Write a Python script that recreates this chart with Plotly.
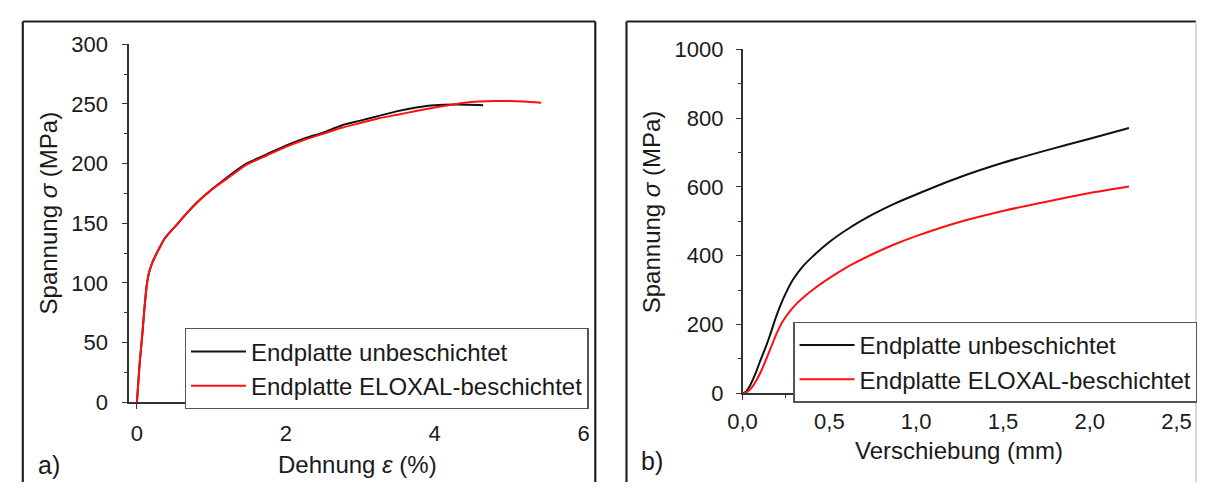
import plotly.graph_objects as go

# ---------------- data ----------------
# panel a) stress-strain
strain_unb = [0, 0.02, 0.04, 0.07, 0.10, 0.13, 0.16, 0.20, 0.25, 0.30, 0.37, 0.45, 0.54, 0.65, 0.8, 1.0, 1.2, 1.47, 1.75, 2.0, 2.25, 2.5, 2.75, 3.0, 3.25, 3.5, 3.75, 4.0, 4.3, 4.65]
stress_unb = [0, 18, 35, 55, 78, 97, 108, 116, 123, 129, 137, 143, 149, 157, 167, 178, 188, 200, 208, 215, 221, 226, 232, 236, 240, 244, 247, 249, 249.5, 249]
strain_elo = [0, 0.02, 0.04, 0.07, 0.10, 0.13, 0.16, 0.20, 0.25, 0.30, 0.37, 0.45, 0.54, 0.65, 0.8, 1.0, 1.2, 1.47, 1.75, 2.0, 2.25, 2.5, 2.75, 3.0, 3.25, 3.5, 3.75, 4.0, 4.2, 4.4, 4.6, 4.8, 5.0, 5.2, 5.43]
stress_elo = [0, 18, 35, 55, 78, 97, 108, 116, 123, 129, 137, 143, 149, 157, 167, 178, 187, 199, 207, 214, 220, 225, 230, 234, 238, 241, 244, 247, 249, 251, 252, 252.5, 252.5, 252, 251]

# panel b) stress-displacement
disp_unb = [0, 0.02, 0.04, 0.06, 0.08, 0.10, 0.13, 0.16, 0.19, 0.22, 0.25, 0.29, 0.34, 0.40, 0.5, 0.62, 0.75, 0.87, 1.0, 1.25, 1.5, 1.75, 2.0, 2.226]
sig_unb = [0, 5, 20, 41, 65, 92, 130, 172, 218, 258, 292, 330, 365, 396, 440, 482, 520, 550, 578, 628, 670, 706, 740, 771]
disp_elo = [0, 0.02, 0.04, 0.06, 0.08, 0.11, 0.14, 0.17, 0.20, 0.23, 0.27, 0.31, 0.36, 0.42, 0.5, 0.62, 0.75, 0.87, 1.0, 1.25, 1.5, 1.75, 2.0, 2.226]
sig_elo = [0, 3, 10, 22, 38, 68, 104, 142, 178, 208, 237, 260, 283, 307, 335, 372, 405, 432, 457, 498, 530, 557, 582, 601]

names = ["Endplatte unbeschichtet", "Endplatte ELOXAL-beschichtet"]
colors = ["#111111", "#ff1010"]

xa_ticks = [0, 2, 4, 6]
xa_minor = [1, 3, 5]
ya_ticks = [0, 50, 100, 150, 200, 250, 300]
ya_minor = [25, 75, 125, 175, 225, 275]
xb_ticks = [0, 0.5, 1.0, 1.5, 2.0, 2.5]
xb_ticktext = ["0,0", "0,5", "1,0", "1,5", "2,0", "2,5"]
xb_minor = [0.25, 0.75, 1.25, 1.75, 2.25]
yb_ticks = [0, 200, 400, 600, 800, 1000]
yb_minor = [100, 300, 500, 700, 900]

W, H = 1213, 495
FONT = "Liberation Sans, Arial, sans-serif"
TXT = "#1a1a1a"

def px(x):
    return x / W

def py(y):
    return 1 - y / H

fig = go.Figure()
fig.add_trace(go.Scatter(x=strain_unb, y=stress_unb, mode="lines", name=names[0],
                         line=dict(color=colors[0], width=2, shape="spline", smoothing=0.6),
                         xaxis="x", yaxis="y", legend="legend"))
fig.add_trace(go.Scatter(x=strain_elo, y=stress_elo, mode="lines", name=names[1],
                         line=dict(color=colors[1], width=2, shape="spline", smoothing=0.6),
                         xaxis="x", yaxis="y", legend="legend"))
fig.add_trace(go.Scatter(x=disp_unb, y=sig_unb, mode="lines", name=names[0],
                         line=dict(color=colors[0], width=2, shape="spline", smoothing=0.6),
                         xaxis="x2", yaxis="y2", legend="legend2"))
fig.add_trace(go.Scatter(x=disp_elo, y=sig_elo, mode="lines", name=names[1],
                         line=dict(color=colors[1], width=2, shape="spline", smoothing=0.6),
                         xaxis="x2", yaxis="y2", legend="legend2"))

axis_common = dict(showgrid=False, zeroline=False, showline=True, linecolor="#333333", linewidth=1.5,
                   ticks="outside", ticklen=5, tickwidth=1.3, tickcolor="#333333",
                   tickfont=dict(family=FONT, size=22, color=TXT), mirror=False)

def minor(vals):
    return dict(tickmode="array", tickvals=vals, ticks="outside", ticklen=3, tickwidth=1.2,
                tickcolor="#333333", showgrid=False)

legend_common = dict(xanchor="left", yanchor="top", bordercolor="#555555", borderwidth=1.3,
                     bgcolor="white", font=dict(family=FONT, size=24, color=TXT),
                     tracegroupgap=0, itemwidth=55)

fig.update_layout(
    width=W, height=H, margin=dict(l=0, r=0, t=0, b=0),
    paper_bgcolor="white", plot_bgcolor="white",
    font=dict(family=FONT, color=TXT),
    xaxis=dict(axis_common, domain=[px(117), px(583)], range=[-0.105, 6], anchor="y",
               tickmode="array", tickvals=xa_ticks, minor=minor(xa_minor), ticklabelstandoff=6),
    yaxis=dict(axis_common, domain=[py(411), py(34)], range=[0, 300], anchor="x",
               tickmode="array", tickvals=ya_ticks, minor=minor(ya_minor), ticklabelstandoff=10),
    xaxis2=dict(axis_common, domain=[px(746), px(1191)], range=[0, 2.5], anchor="y2",
                tickmode="array", tickvals=xb_ticks, ticktext=xb_ticktext, minor=minor(xb_minor),
                ticklabelstandoff=2),
    yaxis2=dict(axis_common, domain=[py(401.7), py(39.2)], range=[0, 1000], anchor="x2",
                tickmode="array", tickvals=yb_ticks, minor=minor(yb_minor), ticklabelstandoff=8),
    legend=dict(legend_common, x=px(174), y=py(333)),
    legend2=dict(legend_common, x=px(798), y=py(326)),
    showlegend=True,
)

annots = [
    dict(text="Spannung <i>σ</i> (MPa)", x=px(34), y=py(212), textangle=-90, size=24),
    dict(text="Dehnung <i>ε</i> (%)", x=px(351), y=py(477), textangle=0, size=24),
    dict(text="Spannung <i>σ</i> (MPa)", x=px(653), y=py(210), textangle=-90, size=24),
    dict(text="Verschiebung (mm)", x=px(968), y=py(462), textangle=0, size=24),
    dict(text="a)", x=px(35), y=py(477), textangle=0, size=25),
    dict(text="b)", x=px(653), y=py(473), textangle=0, size=25),
]
for a in annots:
    fig.add_annotation(text=a["text"], x=a["x"], y=a["y"], xref="paper", yref="paper",
                       xanchor="center", yanchor="middle", textangle=a["textangle"],
                       showarrow=False, font=dict(family=FONT, size=a["size"], color=TXT))

# panel frames
frame = dict(type="line", xref="paper", yref="paper", line=dict(color="#222222", width=2.2))
for (x0, y0, x1, y1) in [(8, 10, 595, 10), (8, 10, 8, 495), (595, 10, 595, 495),
                         (627, 10, 1211, 10), (627, 10, 627, 495)]:
    fig.add_shape(frame, x0=px(x0), y0=py(y0), x1=px(x1), y1=py(y1))
fig.add_shape(type="line", xref="paper", yref="paper", x0=px(1211), y0=py(10), x1=px(1211), y1=py(495),
              line=dict(color="#cccccc", width=1.5))

fig.write_html("out.html", config={"displayModeBar": False})

# remove default page margins so the figure fills the window exactly
with open("out.html", "r", encoding="utf-8") as f:
    html = f.read()
html = html.replace("<head>", "<head><style>html,body{margin:0;padding:0;overflow:hidden;}</style>", 1)
with open("out.html", "w", encoding="utf-8") as f:
    f.write(html)
